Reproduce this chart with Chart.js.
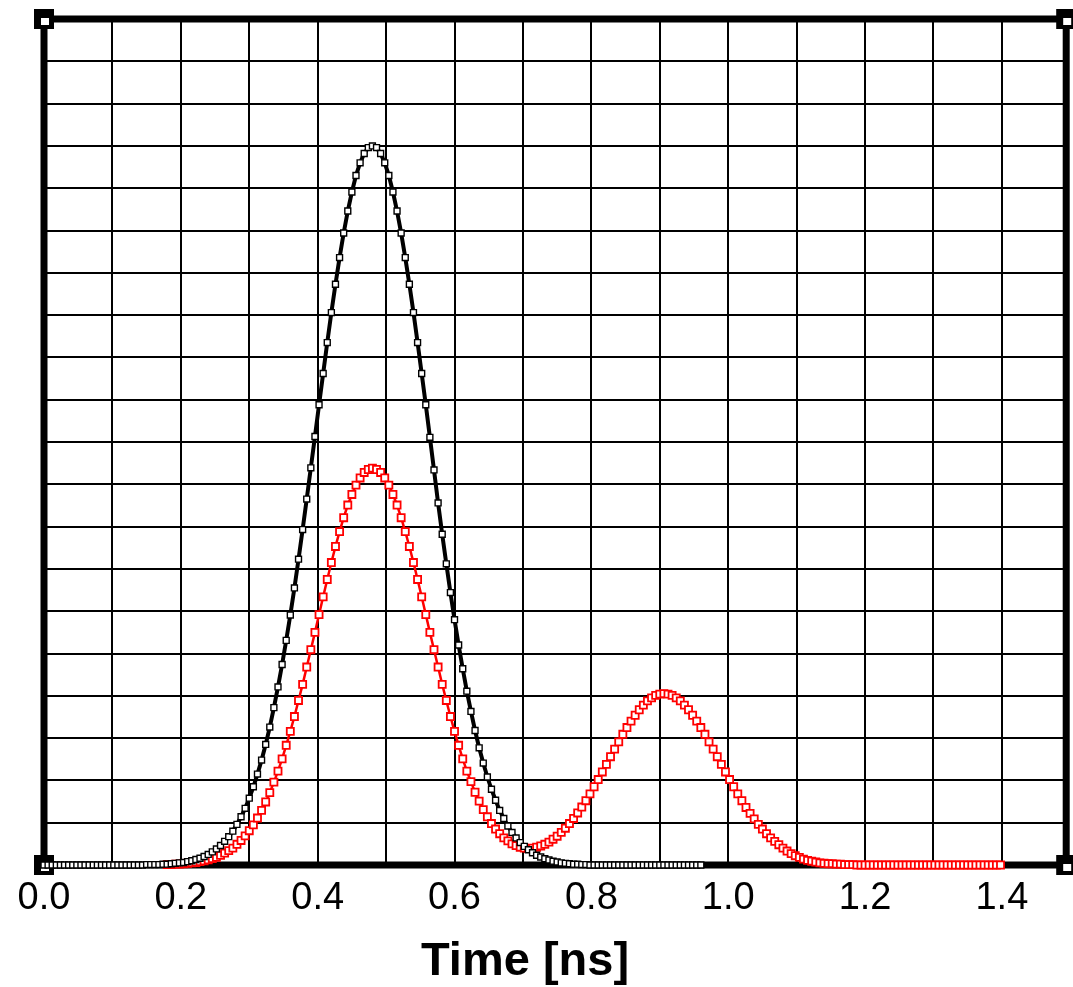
<!DOCTYPE html>
<html>
<head>
<meta charset="utf-8">
<script src="https://cdn.jsdelivr.net/npm/chart.js@4.4.0/dist/chart.umd.min.js"></script>
<style>
  html, body { margin: 0; padding: 0; background: #fff; }
  canvas { display: block; }
</style>
</head>
<body>
<canvas id="chart" width="1073" height="987"></canvas>
<script>
// samples are 6 ps apart; black starts at t = 0, red at t = 0.18 ns
const sampleStep = 0.006;
const blackStartIndex = 0;
const redStartIndex = 30;

const blackValues = [
  0, 0, 0, 0, 0, 0, 0, 0, 0, 0,
  0, 0, 0, 0, 0, 0, 0, 0, 0, 0,
  0, 0, 0, 0, 0, 0.01, 0.01, 0.01, 0.01, 0.02,
  0.02, 0.03, 0.04, 0.05, 0.06, 0.08, 0.10, 0.13, 0.16, 0.20,
  0.25, 0.31, 0.38, 0.46, 0.56, 0.67, 0.80, 0.96, 1.14, 1.34,
  1.58, 1.85, 2.15, 2.48, 2.85, 3.26, 3.72, 4.21, 4.74, 5.31,
  5.91, 6.55, 7.23, 7.93, 8.65, 9.39, 10.13, 10.88, 11.62, 12.35,
  13.06, 13.73, 14.36, 14.94, 15.46, 15.91, 16.30, 16.60, 16.82, 16.96,
  17.00, 16.96, 16.82, 16.60, 16.30, 15.91, 15.46, 14.94, 14.36, 13.73,
  13.06, 12.35, 11.62, 10.88, 10.11, 9.34, 8.56, 7.82, 7.12, 6.44,
  5.80, 5.20, 4.64, 4.11, 3.63, 3.18, 2.77, 2.41, 2.08, 1.79,
  1.53, 1.29, 1.10, 0.92, 0.77, 0.64, 0.53, 0.44, 0.36, 0.29,
  0.23, 0.19, 0.15, 0.12, 0.09, 0.07, 0.05, 0.04, 0.03, 0.02,
  0.02, 0.01, 0.01, 0, 0, 0, 0, 0, 0, 0,
  0, 0, 0, 0, 0, 0, 0, 0, 0, 0,
  0, 0, 0, 0, 0, 0, 0, 0, 0, 0,
  0
];

const redValues = [
  0.01, 0.01, 0.02, 0.02, 0.03, 0.04, 0.05, 0.06, 0.08, 0.10,
  0.12, 0.15, 0.18, 0.23, 0.28, 0.34, 0.40, 0.49, 0.58, 0.69,
  0.81, 0.95, 1.11, 1.29, 1.49, 1.71, 1.96, 2.22, 2.51, 2.83,
  3.16, 3.51, 3.89, 4.27, 4.68, 5.09, 5.50, 5.92, 6.34, 6.75,
  7.15, 7.53, 7.88, 8.21, 8.51, 8.76, 8.98, 9.15, 9.28, 9.35,
  9.38, 9.35, 9.28, 9.15, 8.98, 8.76, 8.51, 8.21, 7.88, 7.53,
  7.15, 6.75, 6.34, 5.92, 5.50, 5.09, 4.68, 4.27, 3.89, 3.51,
  3.16, 2.83, 2.51, 2.22, 1.97, 1.72, 1.51, 1.31, 1.14, 0.98,
  0.85, 0.74, 0.64, 0.57, 0.50, 0.46, 0.42, 0.40, 0.39, 0.40,
  0.42, 0.45, 0.49, 0.54, 0.61, 0.68, 0.77, 0.87, 0.98, 1.10,
  1.23, 1.37, 1.52, 1.68, 1.85, 2.02, 2.20, 2.38, 2.56, 2.74,
  2.91, 3.09, 3.25, 3.40, 3.54, 3.67, 3.78, 3.88, 3.95, 4.01,
  4.04, 4.05, 4.04, 4.01, 3.95, 3.88, 3.78, 3.67, 3.54, 3.40,
  3.25, 3.09, 2.91, 2.74, 2.56, 2.38, 2.20, 2.02, 1.85, 1.68,
  1.52, 1.36, 1.22, 1.09, 0.96, 0.85, 0.74, 0.64, 0.56, 0.48,
  0.40, 0.33, 0.27, 0.22, 0.18, 0.14, 0.11, 0.09, 0.07, 0.05,
  0.04, 0.03, 0.03, 0.02, 0.02, 0.01, 0.01, 0.01, 0, 0,
  0, 0, 0, 0, 0, 0, 0, 0, 0, 0,
  0, 0, 0, 0, 0, 0, 0, 0, 0, 0,
  0, 0, 0, 0, 0, 0, 0, 0, 0, 0,
  0, 0, 0, 0
];

const xTickLabels = ['0.0', '0.2', '0.4', '0.6', '0.8', '1.0', '1.2', '1.4'];
const xTitle = 'Time [ns]';

const toPoints = (values, startIndex) =>
  values.map((v, i) => ({ x: +((startIndex + i) * sampleStep).toFixed(3), y: v }));

// thick frame + little corner handles + axis title
const framePlugin = {
  id: 'frame',
  beforeDatasetsDraw(chart) {
    const { ctx, chartArea: a } = chart;
    ctx.save();
    ctx.strokeStyle = '#000';
    ctx.lineWidth = 7;
    ctx.strokeRect(a.left, a.top, a.right - a.left, a.bottom - a.top);
    const corners = [[a.left, a.top], [a.right, a.top], [a.left, a.bottom], [a.right, a.bottom]];
    corners.forEach(([cx, cy]) => {
      ctx.fillStyle = '#000';
      ctx.fillRect(cx - 10, cy - 10, 20, 20);
      ctx.fillStyle = '#fff';
      ctx.fillRect(cx - 3, cy - 1, 8, 7);
    });
    ctx.restore();
  },
  afterDraw(chart) {
    const { ctx } = chart;
    ctx.save();
    ctx.fillStyle = '#000';
    ctx.font = 'bold 47px "Liberation Sans", Arial, sans-serif';
    ctx.textAlign = 'center';
    ctx.textBaseline = 'alphabetic';
    ctx.fillText(xTitle, 525, 975);
    ctx.restore();
  }
};

new Chart(document.getElementById('chart'), {
  type: 'line',
  data: {
    datasets: [
      {
        label: 'black',
        data: toPoints(blackValues, blackStartIndex),
        borderColor: '#000',
        borderWidth: 4,
        pointStyle: 'rect',
        pointRadius: 4.2,
        pointBorderWidth: 1.4,
        pointBorderColor: '#000',
        pointBackgroundColor: '#fff',
        tension: 0,
        clip: false,
      },
      {
        label: 'red',
        data: toPoints(redValues, redStartIndex),
        borderColor: '#ff0000',
        borderWidth: 2.5,
        pointStyle: 'rect',
        pointRadius: 5,
        pointBorderWidth: 1.8,
        pointBorderColor: '#ff0000',
        pointBackgroundColor: '#fff',
        tension: 0,
        clip: false,
      },
    ],
  },
  options: {
    responsive: false,
    devicePixelRatio: 1,
    animation: false,
    events: [],
    layout: { padding: { left: 44, top: 19, right: 0, bottom: 0 } },
    plugins: {
      legend: { display: false },
      tooltip: { enabled: false },
    },
    scales: {
      x: {
        type: 'linear',
        min: 0,
        max: 1.494,
        border: { display: false },
        grid: { color: '#000', lineWidth: 2, drawTicks: false },
        ticks: {
          stepSize: 0.1,
          includeBounds: false,
          autoSkip: false,
          maxRotation: 0,
          padding: 11,
          color: '#000',
          font: { family: '"Liberation Sans", Arial, sans-serif', size: 38 },
          callback: (value) => {
            const s = Number(value).toFixed(1);
            return xTickLabels.includes(s) ? s : '';
          },
        },
        afterFit: (scale) => { scale.height = 122; },
      },
      y: {
        min: 0,
        max: 20,
        border: { display: false },
        grid: { color: '#000', lineWidth: 2, drawTicks: false },
        ticks: { stepSize: 1, display: false },
        afterFit: (scale) => { scale.width = 0; },
      },
    },
  },
  plugins: [framePlugin],
});
</script>
</body>
</html>
